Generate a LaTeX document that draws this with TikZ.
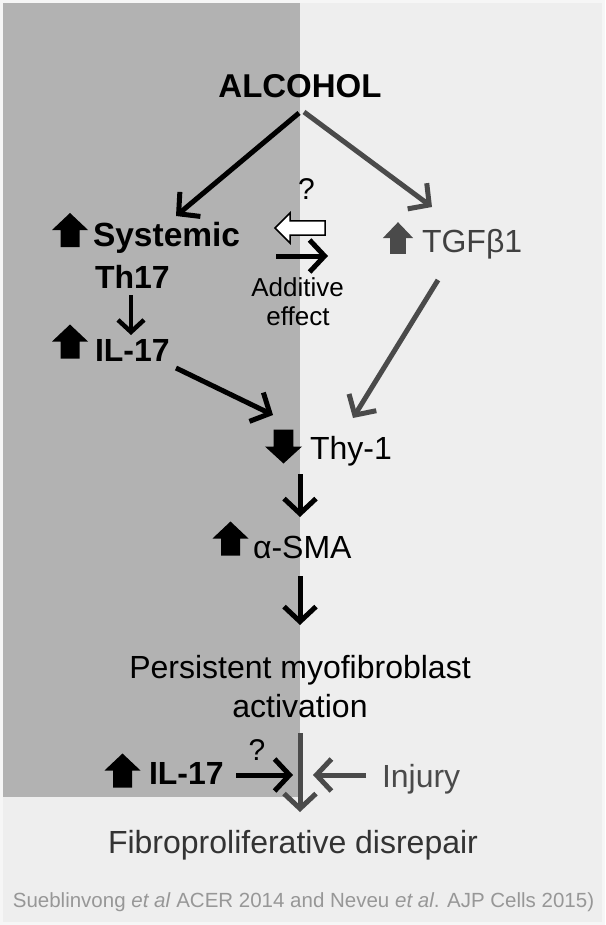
\documentclass[tikz,border=0pt]{standalone}
\usepackage{fontspec}
\setmainfont{Liberation Sans}
\usetikzlibrary{arrows.meta}
\definecolor{darkpanel}{HTML}{B2B2B2}
\definecolor{lightpanel}{HTML}{EEEEEE}
\definecolor{framecol}{HTML}{F6F6F6}
\definecolor{arrowgray}{HTML}{4A4A4A}
\definecolor{textgray}{HTML}{404040}
\definecolor{fibgray}{HTML}{333333}
\definecolor{citegray}{HTML}{979797}
\tikzset{
  lbl/.style={inner sep=0pt, outer sep=0pt},
  hugebold/.style={lbl, font=\fontsize{33}{40}\selectfont\bfseries},
  bigbold/.style={lbl, font=\fontsize{32}{38}\selectfont\bfseries},
  big/.style={lbl, font=\fontsize{32}{38}\selectfont},
  mid/.style={lbl, font=\fontsize{26}{31}\selectfont},
  qmark/.style={lbl, font=\fontsize{30}{36}\selectfont},
  citestyle/.style={lbl, font=\fontsize{20.5}{24}\selectfont, text=citegray},
  flow/.style={line width=5pt, -{Straight Barb[length=15pt,width=32pt]}},
  smallflow/.style={line width=4.5pt, -{Straight Barb[length=12pt,width=26pt]}},
  pics/upicon/.style={code={
    \fill (0,-17) -- (18,0) -- (9.5,0) -- (9.5,17) -- (-9.5,17) -- (-9.5,0) -- (-18,0) -- cycle;}},
}
\begin{document}
\begin{tikzpicture}[x=1pt,y=-1pt]
% background
\fill[framecol] (0,0) rectangle (605,925);
\fill[lightpanel] (3,3) rectangle (602,922);
\fill[darkpanel] (3,3) rectangle (300,797);
\useasboundingbox (0,0) rectangle (605,925);

% texts
\node[hugebold, anchor=base] (alcohol) at (300,98) {ALCOHOL};
\node[bigbold, anchor=base west, font=\fontsize{33.5}{40}\selectfont\bfseries] (systemic) at (93,247) {Systemic};
\node[bigbold, anchor=base west] (th17) at (95,288) {Th17};
\node[bigbold, anchor=base west] (il17) at (95,361) {IL-17};
\node[big, anchor=base west, text=textgray] (tgf) at (422,252) {TGFβ1};
\node[big, anchor=base west] (thy) at (310,459) {Thy-1};
\node[big, anchor=base west] (sma) at (253,558) {α-SMA};
\node[big, anchor=base] (pers) at (300,678) {Persistent myofibroblast};
\node[big, anchor=base] (activ) at (300,717) {activation};
\node[big, anchor=base, text=fibgray] (fib) at (293,853) {Fibroproliferative disrepair};
\node[citestyle, anchor=base] (cite) at (303.5,907) {Sueblinvong \textit{et al} ACER 2014 and Neveu \textit{et al}. AJP Cells 2015)};
\node[qmark, anchor=base] (q1) at (306.5,200) {?};
\node[mid, anchor=base] (add1) at (297.5,296) {Additive};
\node[mid, anchor=base] (add2) at (298,325) {effect};
\node[bigbold, anchor=base west] (il17b) at (149,784) {IL-17};
\node[qmark, anchor=base] (q2) at (257,760) {?};
\node[big, anchor=base west, text=arrowgray] (injury) at (382,787) {Injury};

% icons
\pic[black] at (70,230) {upicon};
\pic[black] at (70,341.5) {upicon};
\pic[arrowgray, xscale=0.84, yscale=0.93] at (398,238) {upicon};
\pic[black, yscale=-1, xscale=1.03] at (283.5,446.5) {upicon};
\pic[black] at (230.5,538.5) {upicon};
\pic[black] at (122.5,770.5) {upicon};

% connector end points
\coordinate (alcL) at (299,113);
\coordinate (alcR) at (304,112);
\coordinate (sysIn) at (176,216);
\coordinate (tgfIn) at (432,207);
\coordinate (thOut) at (131,295);
\coordinate (ilIn) at (131,335);
\coordinate (ilOut) at (176,368);
\coordinate (thyInL) at (273,415);
\coordinate (tgfOut) at (438,280);
\coordinate (thyInR) at (353,418);
\coordinate (thyOut) at (300,474);
\coordinate (smaIn) at (300,517);
\coordinate (smaOut) at (300,576);
\coordinate (persIn) at (300,625);
\coordinate (actOut) at (300,733);
\coordinate (fibIn) at (300,812);
\coordinate (ilbOut) at (236,775);
\coordinate (junL) at (293,775);
\coordinate (injOut) at (366,775);
\coordinate (junR) at (313,775);
\coordinate (addS) at (276,256);
\coordinate (addE) at (328,256);

% connectors
\draw[flow] (alcL) -- (sysIn);
\draw[flow, arrowgray] (alcR) -- (tgfIn);
\draw[smallflow] (thOut) -- (ilIn);
\draw[flow] (ilOut) -- (thyInL);
\draw[flow, arrowgray] (tgfOut) -- (thyInR);
\draw[flow] (thyOut) -- (smaIn);
\draw[flow] (smaOut) -- (persIn);
\draw[flow, arrowgray] (actOut) -- (fibIn);
\draw[flow] (ilbOut) -- (junL);
\draw[flow, arrowgray] (injOut) -- (junR);
\draw[flow] (addS) -- (addE);
% hollow arrow
\draw[fill=white, line width=1.5pt, line join=miter] (275,228) -- (290,213) -- (290,221) -- (325,221) -- (325,235) -- (290,235) -- (290,243) -- cycle;
\end{tikzpicture}
\end{document}
